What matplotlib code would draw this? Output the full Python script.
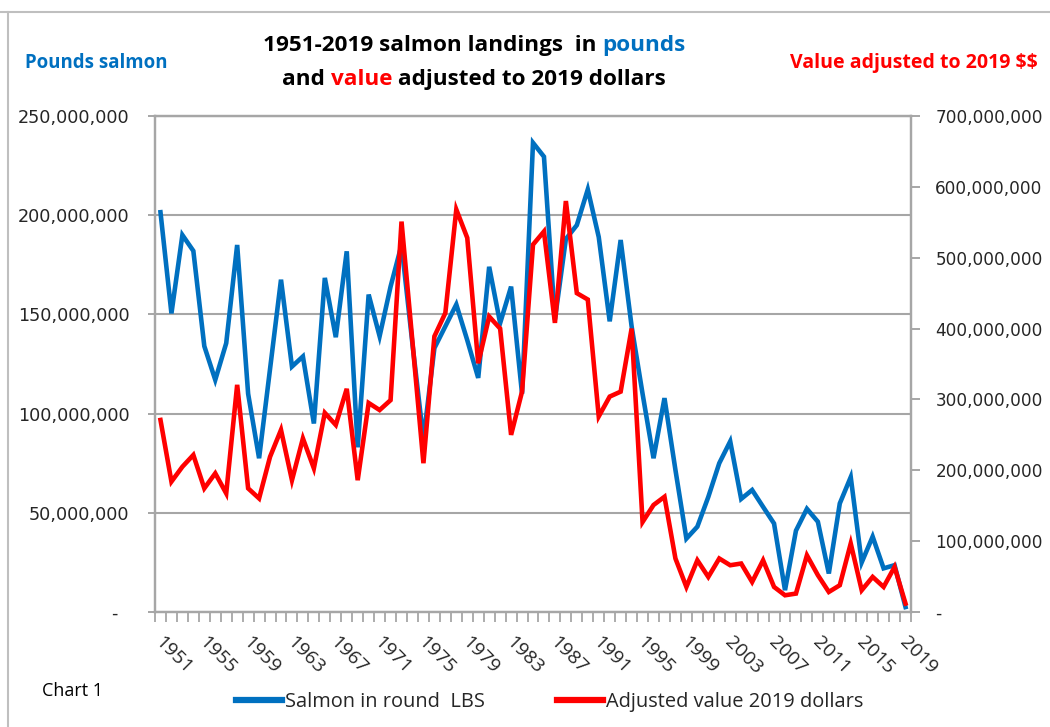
import matplotlib
matplotlib.use("Agg")
import matplotlib.pyplot as plt
from matplotlib.ticker import FuncFormatter, MultipleLocator, FixedLocator
from matplotlib.lines import Line2D
from matplotlib.transforms import ScaledTranslation
from matplotlib import font_manager

# 1951-2019 landings (millions of pounds) and value in 2019 dollars (millions)
years = list(range(1951, 2020))
pounds_m = [
    201.5, 150.5, 190.0, 182.0, 134.0, 117.0, 135.5, 185.0, 110.0, 77.5,
    122.5, 167.5, 123.7, 128.8, 95.0, 168.4, 138.5, 181.8, 83.0, 160.0,
    139.0, 164.0, 185.0, 135.0, 87.0, 133.0, 144.0, 155.0, 137.0, 118.0,
    174.0, 145.6, 164.0, 110.0, 236.5, 229.5, 147.5, 188.0, 195.0, 213.0,
    189.0, 146.5, 187.5, 144.0, 110.0, 77.5, 107.8, 71.6, 37.0, 43.0,
    58.0, 75.0, 86.0, 57.0, 61.5, 53.0, 44.6, 11.0, 41.0, 52.0,
    45.5, 19.4, 54.7, 68.0, 25.0, 38.0, 22.0, 23.6, 2.5,
]
value_m = [
    271.0, 184.0, 205.0, 221.6, 174.5, 195.7, 167.4, 320.6, 174.5, 160.3,
    219.0, 257.0, 186.0, 245.0, 202.8, 281.0, 264.0, 315.0, 186.0, 295.0,
    285.0, 299.0, 551.0, 381.0, 210.0, 389.0, 422.0, 568.0, 528.0, 351.0,
    417.0, 400.0, 250.0, 311.0, 518.5, 537.0, 408.0, 580.0, 450.0, 441.0,
    276.0, 304.0, 311.0, 400.0, 127.0, 151.0, 162.6, 75.5, 35.4, 73.0,
    49.5, 75.5, 66.0, 68.4, 42.4, 73.0, 35.4, 23.6, 26.0, 80.0,
    52.0, 28.3, 37.8, 96.7, 30.7, 49.5, 35.4, 63.6, 11.9,
]
pounds = [v * 1e6 for v in pounds_m]
value = [v * 1e6 for v in value_m]
label_years = years[::4]

BLUE = "#0070C0"
RED = "#FF0000"
GRID = "#A6A6A6"
TXT = "#262626"

W, H = 1050, 727
installed = {f.name for f in font_manager.fontManager.ttflist}
narrow = [f for f in ["Liberation Sans Narrow", "Open Sans", "DejaVu Sans"] if f in installed]
NARROW = narrow[0]

fig = plt.figure(figsize=(W / 100, H / 100), dpi=100)
ax = fig.add_axes([155 / W, 1 - 612 / H, (911 - 155) / W, (612 - 116) / H])
ax2 = ax.twinx()

ax.plot(years, pounds, color=BLUE, lw=3.3, solid_joinstyle="miter", zorder=3)
ax2.plot(years, value, color=RED, lw=3.3, solid_joinstyle="miter", zorder=3)

ax.set_xlim(1950.5, 2019.5)
ax.set_ylim(0, 250e6)
ax2.set_ylim(0, 700e6)

fmt = FuncFormatter(lambda v, p: "-  " if v == 0 else f"{v:,.0f}")
fmt2 = FuncFormatter(lambda v, p: "-" if v == 0 else f"{v:,.0f}")
ax.yaxis.set_major_locator(MultipleLocator(50e6))
ax.yaxis.set_major_formatter(fmt)
ax2.yaxis.set_major_locator(MultipleLocator(100e6))
ax2.yaxis.set_major_formatter(fmt2)

ax.grid(axis="y", color=GRID, lw=1.5)
ax.set_axisbelow(True)
for a in (ax, ax2):
    for s in a.spines.values():
        s.set_color(GRID)
        s.set_linewidth(1.6)

ax.tick_params(axis="y", direction="inout", length=10, width=1.4, color=GRID,
               labelsize=12.7, labelcolor=TXT, pad=13.5)
ax2.tick_params(axis="y", direction="out", length=6.5, width=1.4, color=GRID,
                labelsize=12.2, labelcolor=TXT, pad=11)
for lab in ax.get_yticklabels() + ax2.get_yticklabels():
    lab.set_family("DejaVu Sans")

ax.set_xticks(label_years)
ax.set_xticklabels([str(y) for y in label_years], rotation=-45, ha="left", va="top",
                   fontsize=14, color=TXT, family=NARROW)
ax.xaxis.set_minor_locator(FixedLocator([y + 0.5 for y in range(1950, 2020)]))
ax.tick_params(axis="x", which="major", length=0, pad=15)
ax.tick_params(axis="x", which="minor", direction="out", length=7, width=1.3, color=GRID)
shift = ScaledTranslation(-9 / 100, 0, fig.dpi_scale_trans)
for lab in ax.get_xticklabels():
    lab.set_transform(lab.get_transform() + shift)

# spreadsheet frame lines
fig.add_artist(Line2D([0, 1], [1 - 12 / H, 1 - 12 / H], color="#BFBFBF", lw=1.5))
fig.add_artist(Line2D([8 / W, 8 / W], [0, 1 - 12 / H], color="#BFBFBF", lw=1.5))

fig.canvas.draw()
rend = fig.canvas.get_renderer()


def measure(s, **kw):
    t = fig.text(0, 0, s, **kw)
    w = t.get_window_extent(rend).width
    t.remove()
    return w


def draw_parts(xc, yb, parts, **kw):
    full = "".join(p for p, c in parts)
    x0 = xc - measure(full, **kw) / 2
    prefix = ""
    for text, color in parts:
        off = measure(prefix + "|", **kw) - measure("|", **kw) if prefix else 0
        fig.text((x0 + off) / W, 1 - yb / H, text, color=color, ha="left",
                 va="baseline", **kw)
        prefix += text


tkw = dict(fontsize=16.2, fontweight="bold", family=NARROW)
draw_parts(474, 51, [("1951-2019 salmon landings  in ", "black"), ("pounds", BLUE)], **tkw)
draw_parts(474, 85, [("and ", "black"), ("value", RED), (" adjusted to 2019 dollars", "black")], **tkw)

fig.text(25 / W, 1 - 68 / H, "Pounds salmon", color=BLUE, fontsize=13.4,
         fontweight="bold", family=NARROW, va="baseline")
fig.text(1038 / W, 1 - 68 / H, r"Value adjusted to 2019 \$\$", color=RED, fontsize=14,
         fontweight="bold", family=NARROW, va="baseline", ha="right")
fig.text(42 / W, 1 - 696 / H, "Chart 1", color="black", fontsize=13,
         family=NARROW, va="baseline")

handles = [Line2D([], [], color=BLUE, lw=4.5), Line2D([], [], color=RED, lw=4.5)]
fig.legend(handles, ["Salmon in round  LBS", "Adjusted value 2019 dollars"],
           loc="center", bbox_to_anchor=(550 / W, 1 - 702 / H), ncol=2, frameon=False,
           prop={"family": NARROW, "size": 14.4}, handlelength=2.3, handletextpad=0.15,
           columnspacing=3.6, labelcolor=TXT)

fig.savefig("out.png", dpi=100)
